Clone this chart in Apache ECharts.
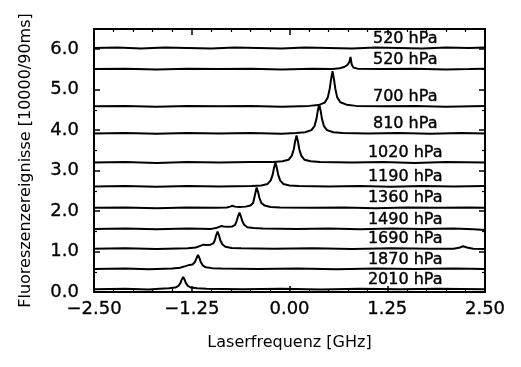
<!DOCTYPE html>
<html>
<head>
<meta charset="utf-8">
<script src="https://cdn.jsdelivr.net/npm/echarts@6/dist/echarts.min.js"></script>
<style>
html, body { margin: 0; padding: 0; background: #fff; }
#chart { width: 521px; height: 367px; }
</style>
</head>
<body>
<div id="chart"></div>
<script>
// pressure labels, top to bottom, and the baseline each spectrum sits on
var pressures = ['520 hPa', '520 hPa', '700 hPa', '810 hPa', '1020 hPa', '1190 hPa',
    '1360 hPa', '1490 hPa', '1690 hPa', '1870 hPa', '2010 hPa'];
var baselines = [6.03, 5.51, 4.59, 3.92, 3.20, 2.61, 2.08, 1.56, 1.07, 0.57, 0.07];

var xTicks = [-2.5, -1.25, 0, 1.25, 2.5];
var yTicks = [0, 1, 2, 3, 4, 5, 6];

// spectra: [GHz, counts]
var trace520a = [[-2.5, 6.03], [-2.2, 6.04], [-1.9, 6.02], [-1.6, 6.04], [-1.3, 6.03], [-1.0, 6.02],
    [-0.7, 6.04], [-0.4, 6.03], [-0.1, 6.02], [0.2, 6.04], [0.5, 6.03], [0.8, 6.02], [1.1, 6.04],
    [1.4, 6.03], [1.7, 6.02], [2.0, 6.04], [2.3, 6.03], [2.5, 6.04]];
var trace520b = [[-2.5, 5.51], [-2.1, 5.52], [-1.7, 5.50], [-1.3, 5.52], [-0.9, 5.51], [-0.5, 5.52],
    [-0.1, 5.50], [0.3, 5.52], [0.55, 5.51], [0.64, 5.53], [0.70, 5.56], [0.74, 5.61], [0.765, 5.68],
    [0.78, 5.81], [0.795, 5.63], [0.815, 5.55], [0.87, 5.52], [1.2, 5.51], [1.6, 5.52], [2.0, 5.50],
    [2.3, 5.51], [2.5, 5.52]];
var trace700 = [[-2.5, 4.59], [-2.1, 4.60], [-1.7, 4.58], [-1.3, 4.60], [-0.9, 4.59], [-0.5, 4.60],
    [-0.1, 4.58], [0.25, 4.60], [0.37, 4.62], [0.45, 4.68], [0.49, 4.81], [0.515, 5.03], [0.53, 5.24],
    [0.55, 5.46], [0.57, 5.24], [0.585, 5.03], [0.61, 4.81], [0.65, 4.69], [0.73, 4.63], [0.85, 4.60],
    [1.2, 4.59], [1.6, 4.60], [2.0, 4.58], [2.5, 4.60]];
var trace810 = [[-2.5, 3.92], [-2.1, 3.93], [-1.7, 3.91], [-1.3, 3.93], [-0.9, 3.92], [-0.5, 3.93],
    [-0.1, 3.91], [0.08, 3.93], [0.20, 3.95], [0.28, 4.00], [0.32, 4.10], [0.345, 4.28], [0.36, 4.46],
    [0.38, 4.64], [0.40, 4.46], [0.415, 4.28], [0.44, 4.10], [0.48, 4.00], [0.56, 3.95], [0.68, 3.93],
    [1.0, 3.92], [1.4, 3.93], [1.8, 3.91], [2.2, 3.93], [2.5, 3.92]];
var trace1020 = [[-2.5, 3.20], [-2.1, 3.21], [-1.7, 3.19], [-1.3, 3.21], [-0.9, 3.20], [-0.5, 3.21],
    [-0.21, 3.21], [-0.09, 3.23], [-0.01, 3.27], [0.03, 3.37], [0.055, 3.53], [0.07, 3.70], [0.09, 3.87],
    [0.11, 3.70], [0.125, 3.53], [0.15, 3.37], [0.19, 3.27], [0.27, 3.23], [0.39, 3.21], [0.8, 3.20],
    [1.2, 3.21], [1.6, 3.19], [2.0, 3.21], [2.5, 3.20]];
var trace1190 = [[-2.5, 2.61], [-2.1, 2.62], [-1.7, 2.60], [-1.3, 2.62], [-0.9, 2.61], [-0.48, 2.62],
    [-0.36, 2.63], [-0.28, 2.67], [-0.24, 2.76], [-0.215, 2.90], [-0.20, 3.05], [-0.18, 3.20],
    [-0.16, 3.05], [-0.145, 2.90], [-0.12, 2.76], [-0.08, 2.67], [0.0, 2.63], [0.12, 2.62], [0.5, 2.61],
    [0.9, 2.62], [1.3, 2.60], [1.7, 2.62], [2.1, 2.61], [2.5, 2.62]];
var trace1360 = [[-2.5, 2.08], [-2.1, 2.09], [-1.7, 2.07], [-1.3, 2.09], [-0.95, 2.08], [-0.80, 2.09],
    [-0.76, 2.11], [-0.73, 2.13], [-0.70, 2.11], [-0.64, 2.10], [-0.56, 2.11], [-0.50, 2.14],
    [-0.465, 2.20], [-0.45, 2.33], [-0.435, 2.46], [-0.42, 2.58], [-0.40, 2.46], [-0.385, 2.33],
    [-0.36, 2.20], [-0.32, 2.14], [-0.24, 2.10], [-0.12, 2.09], [0.3, 2.08], [0.7, 2.09], [1.1, 2.07],
    [1.5, 2.09], [1.9, 2.08], [2.3, 2.09], [2.5, 2.08]];
var trace1490 = [[-2.5, 1.56], [-2.1, 1.57], [-1.7, 1.55], [-1.3, 1.57], [-1.0, 1.56], [-0.94, 1.58],
    [-0.90, 1.61], [-0.87, 1.63], [-0.84, 1.62], [-0.79, 1.61], [-0.73, 1.62], [-0.695, 1.66],
    [-0.675, 1.76], [-0.66, 1.86], [-0.64, 1.96], [-0.62, 1.86], [-0.605, 1.76], [-0.58, 1.66],
    [-0.54, 1.60], [-0.46, 1.58], [-0.34, 1.57], [0.1, 1.56], [0.5, 1.57], [0.9, 1.55], [1.3, 1.57],
    [1.7, 1.56], [2.1, 1.57], [2.35, 1.55], [2.5, 1.53]];
var trace1690 = [[-2.5, 1.07], [-2.1, 1.08], [-1.7, 1.06], [-1.3, 1.08], [-1.20, 1.10], [-1.14, 1.14],
    [-1.10, 1.17], [-1.06, 1.16], [-1.01, 1.17], [-0.975, 1.20], [-0.955, 1.28], [-0.94, 1.39],
    [-0.92, 1.49], [-0.90, 1.39], [-0.885, 1.28], [-0.86, 1.18], [-0.82, 1.12], [-0.74, 1.09],
    [-0.62, 1.08], [-0.2, 1.07], [0.3, 1.08], [0.8, 1.06], [1.3, 1.08], [1.8, 1.07], [2.10, 1.07],
    [2.18, 1.10], [2.22, 1.13], [2.27, 1.10], [2.35, 1.07], [2.5, 1.06]];
var trace1870 = [[-2.5, 0.57], [-2.1, 0.58], [-1.8, 0.56], [-1.5, 0.58], [-1.40, 0.60], [-1.33, 0.64],
    [-1.28, 0.67], [-1.24, 0.68], [-1.21, 0.74], [-1.19, 0.83], [-1.17, 0.92], [-1.15, 0.83],
    [-1.135, 0.74], [-1.11, 0.66], [-1.07, 0.61], [-0.99, 0.59], [-0.87, 0.58], [-0.4, 0.57],
    [0.1, 0.58], [0.6, 0.56], [1.1, 0.58], [1.6, 0.57], [2.1, 0.58], [2.5, 0.57]];
var trace2010 = [[-2.5, 0.07], [-2.1, 0.08], [-1.8, 0.06], [-1.66, 0.08], [-1.54, 0.09], [-1.46, 0.11],
    [-1.42, 0.15], [-1.395, 0.22], [-1.38, 0.30], [-1.36, 0.37], [-1.34, 0.30], [-1.325, 0.22],
    [-1.30, 0.15], [-1.26, 0.11], [-1.18, 0.09], [-1.06, 0.08], [-0.6, 0.07], [-0.1, 0.08], [0.4, 0.06],
    [0.9, 0.08], [1.4, 0.07], [1.9, 0.08], [2.5, 0.07]];

var traces = [trace520a, trace520b, trace700, trace810, trace1020, trace1190,
    trace1360, trace1490, trace1690, trace1870, trace2010];

var font = 'DejaVu Sans';
var black = '#000';

function frameAxis(pos, min, max, interval, minorSplit) {
    return {
        type: 'value',
        position: pos,
        min: min,
        max: max,
        interval: interval,
        axisLine: { show: true, onZero: false, lineStyle: { color: black, width: 2 } },
        axisTick: { show: true, inside: true, length: 6, lineStyle: { color: black, width: 1.5 } },
        minorTick: { show: true, splitNumber: minorSplit, length: 3, lineStyle: { color: black, width: 1.2 } },
        splitLine: { show: false },
        axisLabel: { show: false }
    };
}

var xBottom = frameAxis('bottom', xTicks[0], xTicks[xTicks.length - 1], 1.25, 5);
xBottom.axisLabel = {
    show: true, margin: 8, color: black, fontFamily: font, fontSize: 18,
    textBorderColor: black, textBorderWidth: 0.3,
    formatter: function (v) { return v.toFixed(2).replace('-', '\u2212'); }
};
xBottom.name = 'Laserfrequenz [GHz]';
xBottom.nameLocation = 'middle';
xBottom.nameGap = 43;
xBottom.nameTextStyle = { color: black, fontFamily: font, fontSize: 16 };
var xTop = frameAxis('top', xTicks[0], xTicks[xTicks.length - 1], 1.25, 5);

var yLeft = frameAxis('left', yTicks[0], 6.5, 1, 2);
yLeft.axisLabel = {
    show: true, margin: 15, color: black, fontFamily: font, fontSize: 18, showMaxLabel: false,
    textBorderColor: black, textBorderWidth: 0.3,
    formatter: function (v) { return yTicks.indexOf(v) < 0 ? '' : v.toFixed(1); }
};
yLeft.name = 'Fluoreszenzereignisse [10000/90ms]';
yLeft.nameLocation = 'middle';
yLeft.nameGap = 60;
yLeft.nameTextStyle = { color: black, fontFamily: font, fontSize: 16 };
var yRight = frameAxis('right', yTicks[0], 6.5, 1, 2);

var series = traces.map(function (t) {
    return {
        type: 'line',
        data: t,
        showSymbol: false,
        silent: true,
        lineStyle: { color: black, width: 2 }
    };
});
// pressure tags written just above each baseline
series.push({
    type: 'scatter',
    symbol: 'rect',
    symbolSize: 1,
    itemStyle: { color: 'rgba(0,0,0,0)' },
    silent: true,
    z: 5,
    data: pressures.map(function (p, i) { return { name: p, value: [1.48, baselines[i]] }; }),
    label: {
        show: true, position: 'top', distance: 1, formatter: '{b}', opacity: 1,
        color: black, fontFamily: font, fontSize: 16,
        textBorderColor: black, textBorderWidth: 0.4
    }
});

var chart = echarts.init(document.getElementById('chart'));
chart.setOption({
    animation: false,
    backgroundColor: '#fff',
    grid: { left: 94, right: 36, top: 29, bottom: 75 },
    xAxis: [xBottom, xTop],
    yAxis: [yLeft, yRight],
    series: series
});
</script>
</body>
</html>
